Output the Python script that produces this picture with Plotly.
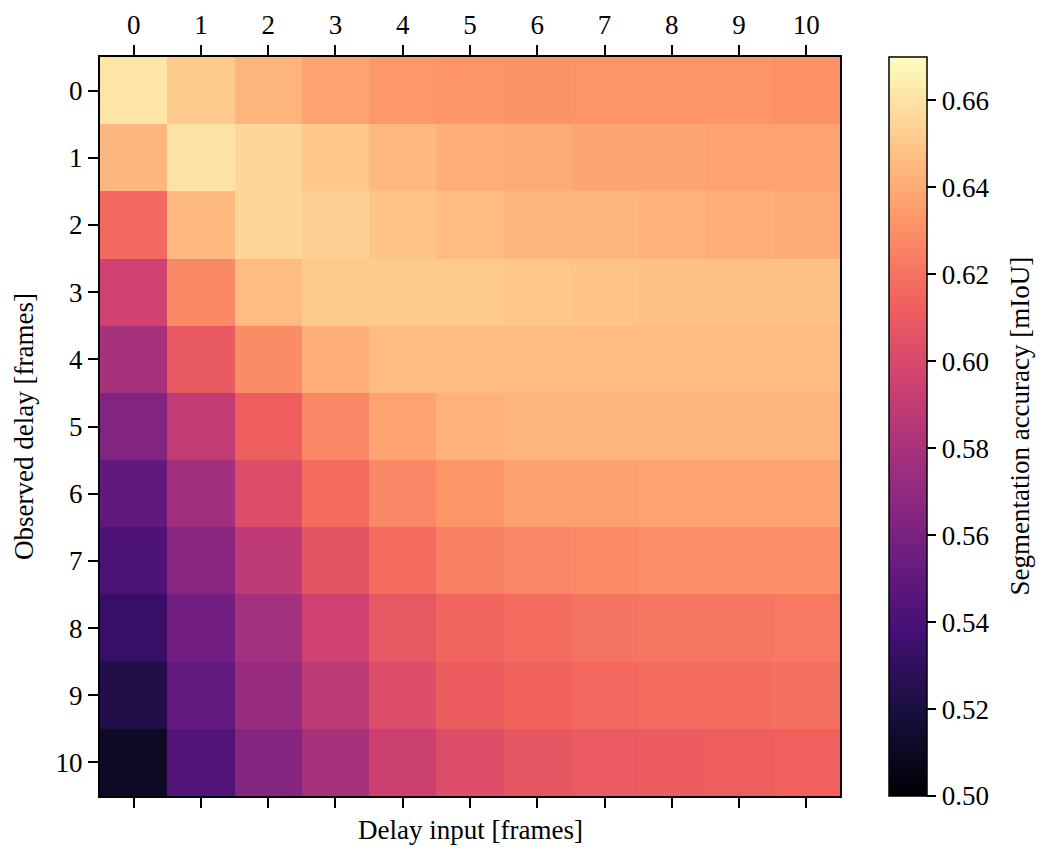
import plotly.graph_objects as go

delay_input = list(range(11))
observed_delay = list(range(11))
tick_labels = [str(i) for i in range(11)]
cbar_ticks = [0.50, 0.52, 0.54, 0.56, 0.58, 0.60, 0.62, 0.64, 0.66]

# mIoU per observed delay (rows) vs delay input (columns)
obs_0 = [0.661, 0.651, 0.643, 0.637, 0.633, 0.632, 0.631, 0.632, 0.632, 0.632, 0.630]
obs_1 = [0.644, 0.660, 0.656, 0.650, 0.645, 0.641, 0.640, 0.638, 0.638, 0.637, 0.637]
obs_2 = [0.616, 0.645, 0.655, 0.653, 0.649, 0.646, 0.644, 0.643, 0.642, 0.641, 0.640]
obs_3 = [0.595, 0.628, 0.6455, 0.6515, 0.6515, 0.651, 0.650, 0.649, 0.648, 0.648, 0.648]
obs_4 = [0.579, 0.609, 0.629, 0.641, 0.6455, 0.646, 0.646, 0.646, 0.646, 0.646, 0.646]
obs_5 = [0.5636, 0.590, 0.612, 0.627, 0.637, 0.642, 0.643, 0.643, 0.643, 0.643, 0.643]
obs_6 = [0.550, 0.577, 0.602, 0.617, 0.627, 0.632, 0.636, 0.636, 0.637, 0.637, 0.637]
obs_7 = [0.5415, 0.5665, 0.589, 0.6066, 0.6176, 0.6246, 0.627, 0.6284, 0.6294, 0.6294, 0.6294]
obs_8 = [0.5325, 0.5567, 0.578, 0.595, 0.6087, 0.6148, 0.6176, 0.620, 0.621, 0.621, 0.622]
obs_9 = [0.523, 0.5507, 0.5725, 0.588, 0.602, 0.611, 0.614, 0.6157, 0.617, 0.6176, 0.619]
obs_10 = [0.511, 0.5435, 0.5646, 0.579, 0.594, 0.603, 0.6077, 0.610, 0.6108, 0.612, 0.6133]

z = [obs_0, obs_1, obs_2, obs_3, obs_4, obs_5, obs_6, obs_7, obs_8, obs_9, obs_10]

FONT = "Liberation Serif"
FS = 27
TXT = dict(family=FONT, size=FS, color="black")

fig = go.Figure(
    go.Heatmap(
        z=z,
        x=delay_input,
        y=observed_delay,
        colorscale="Magma",
        zmin=0.50,
        zmax=0.67,
        colorbar=dict(
            x=1.066,
            xanchor="left",
            xpad=0,
            ypad=0,
            y=0.5,
            yanchor="middle",
            len=1.0,
            lenmode="fraction",
            thickness=38,
            outlinewidth=1.5,
            outlinecolor="black",
            tickvals=cbar_ticks,
            ticktext=[f"{v:.2f}" for v in cbar_ticks],
            ticks="outside",
            ticklen=9,
            tickwidth=1.5,
            tickcolor="black",
            tickfont=TXT,
        ),
    )
)

fig.update_layout(
    width=1045,
    height=853,
    margin=dict(l=92, r=213, t=49, b=65, autoexpand=False),
    paper_bgcolor="white",
    plot_bgcolor="white",
    font=TXT,
    xaxis=dict(
        side="top",
        automargin=False,
        range=[-0.5, 10.5],
        tickvals=delay_input,
        ticktext=tick_labels,
        ticks="outside",
        ticklen=10,
        tickwidth=2,
        tickcolor="black",
        showline=True,
        linecolor="black",
        linewidth=2,
        mirror="ticks",
        showgrid=False,
        zeroline=False,
        tickfont=TXT,
    ),
    yaxis=dict(
        automargin=False,
        range=[10.5, -0.5],
        tickvals=observed_delay,
        ticktext=tick_labels,
        ticks="outside",
        ticklen=10,
        tickwidth=2,
        tickcolor="black",
        showline=True,
        linecolor="black",
        linewidth=2,
        mirror=True,
        showgrid=False,
        zeroline=False,
        tickfont=TXT,
        title=dict(text="Observed delay [frames]", standoff=14, font=TXT),
    ),
    annotations=[
        dict(
            text="Delay input [frames]",
            xref="paper",
            yref="paper",
            x=0.5,
            y=-0.046,
            xanchor="center",
            yanchor="middle",
            showarrow=False,
            font=TXT,
        ),
        dict(
            text="Segmentation accuracy [mIoU]",
            xref="paper",
            yref="paper",
            x=1.242,
            y=0.5,
            xanchor="center",
            yanchor="middle",
            textangle=-90,
            showarrow=False,
            font=TXT,
        ),
    ],
)

fig.write_html("out.html")
